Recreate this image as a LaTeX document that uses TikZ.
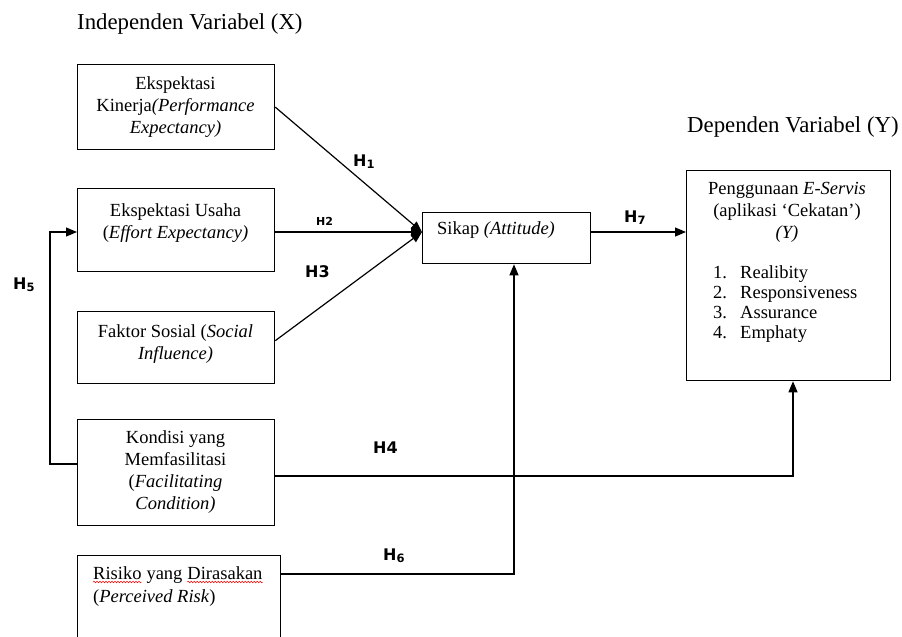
\documentclass[tikz,border=0pt]{standalone}
\usepackage{fontspec}
\setmainfont{Liberation Serif}
\newfontfamily\hfont{DejaVu Sans}
\usetikzlibrary{arrows.meta,decorations.pathmorphing}
\newcommand{\hsub}[1]{{\fontsize{11.5}{12}\selectfont\raisebox{-2pt}{#1}}}
\begin{document}
\begin{tikzpicture}[x=1pt,y=-1pt,
  box/.style={draw,line width=1.3pt,inner sep=0pt,anchor=north west},
  txt/.style={inner sep=0pt,font=\fontsize{18.5}{22}\selectfont,align=center,anchor=base},
  ltxt/.style={inner sep=0pt,font=\fontsize{18.5}{22}\selectfont,align=left,anchor=base west},
  ttl/.style={inner sep=0pt,font=\fontsize{22.8}{26}\selectfont,anchor=base west},
  hlab/.style={inner sep=0pt,font=\hfont\bfseries\fontsize{16}{18}\selectfont,anchor=base west},
  arr/.style={line width=1.2pt,-{Triangle[length=11pt,width=9pt]}},
  wave/.style={red,line width=0.5pt,decorate,decoration={snake,amplitude=0.8pt,segment length=3pt}}]
\useasboundingbox (0,0) rectangle (902,637);

% titles
\node[ttl] (tx) at (77,29) {Independen Variabel (X)};
\node[ttl] (ty) at (687,132) {Dependen Variabel (Y)};

% boxes
\node[box,minimum width=197pt,minimum height=85pt] (b1) at (77,64) {};
\node[box,minimum width=197pt,minimum height=83pt] (b2) at (77,188) {};
\node[box,minimum width=197pt,minimum height=72pt] (b3) at (77,311) {};
\node[box,minimum width=197pt,minimum height=106pt] (b4) at (77,419) {};
\node[box,minimum width=203pt,minimum height=110pt] (b5) at (77,555) {};
\node[box,minimum width=168pt,minimum height=51pt] (s) at (422,212) {};
\node[box,minimum width=204pt,minimum height=210pt] (dep) at (686,170) {};

% box texts (anchor = baseline of the last line)
\node[txt] (t1) at (175.5,133) {Ekspektasi\\Kinerja\textit{(Performance}\\\textit{Expectancy)}};
\node[txt] (t2) at (175.5,238) {Ekspektasi Usaha\\(\textit{Effort Expectancy)}};
\node[txt] (t3) at (175.5,359) {Faktor Sosial (\textit{Social}\\\textit{Influence)}};
\node[txt] (t4) at (175.5,509) {Kondisi yang\\Memfasilitasi\\(\textit{Facilitating}\\\textit{Condition)}};
\node[ltxt] (r1) at (93,579) {Risiko};
\node[ltxt] (r2) at ([xshift=4.6pt]r1.base east) {yang};
\node[ltxt] (r3) at ([xshift=4.6pt]r2.base east) {Dirasakan};
\node[ltxt] (r4) at (93,602) {(\textit{Perceived Risk})};
\draw[wave] ([yshift=-3pt]r1.base west) -- ([yshift=-3pt]r1.base east);
\draw[wave] ([yshift=-3pt]r3.base west) -- ([yshift=-3pt]r3.base east);
\node[ltxt] (ts) at (437,234) {Sikap \textit{(Attitude)}};
\node[txt] (td) at (787,238) {Penggunaan \textit{E-Servis}\\(aplikasi `Cekatan')\\\textit{(Y)}};
\node[ltxt,font=\fontsize{18.5}{20}\selectfont] (ln) at (713,338) {1.\\2.\\3.\\4.};
\node[ltxt,font=\fontsize{18.5}{20}\selectfont] (li) at (740,338) {Realibity\\Responsiveness\\Assurance\\Emphaty};

% connectors
\coordinate (conv) at (422,232);
\coordinate (h4y) at (793,476);
\coordinate (h6y) at (514,574);
\coordinate (h5y) at (50,464);
\draw[arr] (b1.east) -- (conv);
\draw[arr] (b2.east |- conv) -- (conv);
\draw[arr] ([yshift=7pt]b3.east) -- (conv);
\draw[arr] (s.east |- conv) -- (dep.west |- conv);
\draw[arr] (b4.east |- h4y) -- (h4y) -- (h4y |- dep.south);
\draw[arr] (b5.east |- h6y) -- (h6y) -- (h6y |- s.south);
\draw[arr] (b4.west |- h5y) -- (h5y) -- (h5y |- conv) -- (b2.west |- conv);

% hypothesis labels
\node[hlab] (H1) at (353,166) {H\hsub{1}};
\node[hlab,font=\hfont\bfseries\fontsize{11}{12}\selectfont] (H2) at (316,225) {H2};
\node[hlab] (H3) at (305,277) {H3};
\node[hlab] (H4) at (373,453) {H4};
\node[hlab] (H5) at (13,289) {H\hsub{5}};
\node[hlab] (H6) at (383,560) {H\hsub{6}};
\node[hlab] (H7) at (624,222) {H\hsub{7}};
\end{tikzpicture}
\end{document}
